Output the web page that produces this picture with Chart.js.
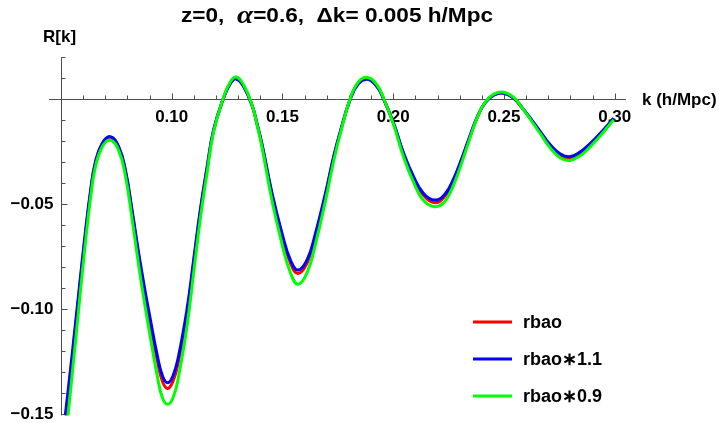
<!DOCTYPE html>
<html>
<head>
<meta charset="utf-8">
<script src="https://cdn.jsdelivr.net/npm/chart.js@4/dist/chart.umd.min.js"></script>
<style>
  html, body { margin: 0; padding: 0; background: #fff; }
  #wrap { width: 719px; height: 423px; }
</style>
</head>
<body>
<div id="wrap"><canvas id="rChart"></canvas></div>
<script>
// k values (h/Mpc)
const kVals = [
  0.0520, 0.0550, 0.0580, 0.0610, 0.0633, 0.0655, 0.0686, 0.0723, 0.0761, 0.0791,
  0.0821, 0.0851, 0.0881, 0.0904, 0.0934, 0.0958, 0.0982, 0.1006, 0.1031, 0.1069,
  0.1099, 0.1129, 0.1160, 0.1189, 0.1232, 0.1265, 0.1292, 0.1325, 0.1363, 0.1385,
  0.1408, 0.1453, 0.1498, 0.1536, 0.1570, 0.1611, 0.1649, 0.1694, 0.1731, 0.1762,
  0.1806, 0.1844, 0.1885, 0.1927, 0.1957, 0.2002, 0.2047, 0.2092, 0.2137, 0.2190,
  0.2235, 0.2273, 0.2303, 0.2341, 0.2379, 0.2416, 0.2454, 0.2499, 0.2544, 0.2582,
  0.2619, 0.2665, 0.2710, 0.2755, 0.2797, 0.2845, 0.2890, 0.2935, 0.2995
];
// R[k] for rbao (red)
const rbao = [
  -0.1532, -0.1244, -0.0944, -0.0648, -0.0449, -0.0306, -0.0214, -0.0182, -0.0231, -0.0344,
  -0.0538, -0.0748, -0.0938, -0.1072, -0.1239, -0.1342, -0.1377, -0.1342, -0.1246, -0.1020,
  -0.0780, -0.0538, -0.0327, -0.0149, 0.0000, 0.0078, 0.0099, 0.0062, -0.0031, -0.0117,
  -0.0219, -0.0457, -0.0651, -0.0780, -0.0829, -0.0780, -0.0651, -0.0457, -0.0278, -0.0153,
  0.0001, 0.0078, 0.0097, 0.0062, 0.0001, -0.0116, -0.0262, -0.0375, -0.0457, -0.0492,
  -0.0459, -0.0386, -0.0306, -0.0194, -0.0087, -0.0015, 0.0021, 0.0030, 0.0006, -0.0041,
  -0.0092, -0.0158, -0.0222, -0.0265, -0.0279, -0.0255, -0.0214, -0.0165, -0.0092
];
// R[k] for rbao*1.1 (blue)
const rbao11 = [
  -0.1502, -0.1220, -0.0925, -0.0635, -0.0440, -0.0300, -0.0210, -0.0178, -0.0226, -0.0337,
  -0.0527, -0.0733, -0.0920, -0.1051, -0.1215, -0.1316, -0.1350, -0.1316, -0.1222, -0.1000,
  -0.0765, -0.0527, -0.0321, -0.0146, 0.0000, 0.0076, 0.0097, 0.0060, -0.0030, -0.0115,
  -0.0215, -0.0448, -0.0638, -0.0765, -0.0813, -0.0765, -0.0638, -0.0448, -0.0273, -0.0150,
  0.0000, 0.0076, 0.0095, 0.0060, 0.0000, -0.0114, -0.0257, -0.0368, -0.0448, -0.0480,
  -0.0450, -0.0378, -0.0300, -0.0190, -0.0085, -0.0015, 0.0020, 0.0029, 0.0005, -0.0040,
  -0.0090, -0.0155, -0.0218, -0.0260, -0.0273, -0.0250, -0.0210, -0.0162, -0.0090
];
// R[k] for rbao*0.9 (green)
const rbao09 = [
  -0.1622, -0.1318, -0.0999, -0.0686, -0.0475, -0.0324, -0.0227, -0.0194, -0.0244, -0.0364,
  -0.0569, -0.0792, -0.0994, -0.1135, -0.1312, -0.1421, -0.1452, -0.1421, -0.1320, -0.1080,
  -0.0826, -0.0569, -0.0347, -0.0155, 0.0002, 0.0084, 0.0106, 0.0068, -0.0028, -0.0120,
  -0.0230, -0.0484, -0.0689, -0.0826, -0.0880, -0.0826, -0.0689, -0.0484, -0.0295, -0.0160,
  0.0004, 0.0084, 0.0104, 0.0068, 0.0004, -0.0121, -0.0276, -0.0395, -0.0482, -0.0511,
  -0.0484, -0.0406, -0.0322, -0.0202, -0.0088, -0.0012, 0.0025, 0.0034, 0.0009, -0.0041,
  -0.0095, -0.0165, -0.0233, -0.0279, -0.0291, -0.0268, -0.0225, -0.0174, -0.0097
];

const xTicks = [0.10, 0.15, 0.20, 0.25, 0.30];
const xTickLabels = ['0.10', '0.15', '0.20', '0.25', '0.30'];
const yTicks = [-0.05, -0.10, -0.15];
const yTickLabels = ['\u22120.05', '\u22120.10', '\u22120.15'];
const seriesNames = ['rbao', 'rbao\u22171.1', 'rbao\u22170.9'];

const FONT = '"Liberation Sans", Arial, sans-serif';

const toPts = vals => vals.map((v, i) => ({ x: kVals[i], y: v }));

const axesPlugin = {
  id: 'mmaAxes',
  beforeDatasetsDraw(chart) {
    const { ctx, chartArea: a, scales: { x, y } } = chart;
    const y0 = Math.round(y.getPixelForValue(0)) + 0.5;
    const x0 = Math.round(x.getPixelForValue(0.05)) + 0.5;
    ctx.save();
    ctx.strokeStyle = '#4d4d4d';
    ctx.lineWidth = 1;
    ctx.beginPath();
    ctx.moveTo(a.left, y0); ctx.lineTo(a.right, y0);
    ctx.moveTo(x0, a.top); ctx.lineTo(x0, a.bottom);
    for (let i = 6; i <= 30; i++) {
      const px = Math.round(x.getPixelForValue(i / 100)) + 0.5;
      const len = i % 5 === 0 ? 6 : 4;
      ctx.moveTo(px, y0); ctx.lineTo(px, y0 - len);
    }
    for (let i = 2; i >= -15; i--) {
      if (i === 0) continue;
      const py = Math.round(y.getPixelForValue(i / 100)) + 0.5;
      const len = i % 5 === 0 ? 6 : 4;
      ctx.moveTo(x0, py); ctx.lineTo(x0 + len, py);
    }
    ctx.stroke();

    ctx.fillStyle = '#000';
    ctx.font = 'bold 17px ' + FONT;
    ctx.textBaseline = 'middle';
    ctx.textAlign = 'center';
    xTicks.forEach((t, i) => {
      ctx.fillText(xTickLabels[i], x.getPixelForValue(t), y0 + 18);
    });
    ctx.textAlign = 'right';
    yTicks.forEach((t, i) => {
      ctx.fillText(yTickLabels[i], x0 - 8, y.getPixelForValue(t));
    });
    ctx.restore();
  },
  afterDraw(chart) {
    const { ctx, scales: { y } } = chart;
    const y0 = y.getPixelForValue(0);
    ctx.save();
    ctx.fillStyle = '#000';
    ctx.textBaseline = 'middle';
    ctx.textAlign = 'left';

    // title in pieces so alpha can be italic; slightly widened like the original
    const parts = [
      { t: 'z=0,  ', f: 'bold 20px ' + FONT },
      { t: '\u03b1', f: 'italic bold 26px "Liberation Serif", serif' },
      { t: '=0.6,  \u0394k= 0.005 h/Mpc', f: 'bold 20px ' + FONT }
    ];
    const sx = 1.13;
    let w = 0;
    parts.forEach(p => { ctx.font = p.f; p.w = ctx.measureText(p.t).width; w += p.w; });
    ctx.save();
    ctx.translate(337 - (w * sx) / 2, 16);
    ctx.scale(sx, 1);
    let cx = 0;
    parts.forEach(p => { ctx.font = p.f; ctx.fillText(p.t, cx, 0); cx += p.w; });
    ctx.restore();

    ctx.font = 'bold 17px ' + FONT;
    ctx.fillText('R[k]', 43, 37);
    ctx.fillText('k (h/Mpc)', 642, y0 + 1);

    // legend
    const colors = chart.data.datasets.map(d => d.borderColor);
    const rows = [322, 359, 396];
    ctx.font = 'bold 18px ' + FONT;
    rows.forEach((ry, i) => {
      ctx.strokeStyle = colors[i];
      ctx.lineWidth = 3;
      ctx.beginPath();
      ctx.moveTo(473, ry); ctx.lineTo(512, ry);
      ctx.stroke();
      ctx.fillText(seriesNames[i], 523, ry + 1);
    });
    ctx.restore();
  }
};

new Chart(document.getElementById('rChart'), {
  type: 'line',
  data: {
    datasets: [
      { label: seriesNames[0], data: toPts(rbao), borderColor: '#ff0000', order: 3 },
      { label: seriesNames[1], data: toPts(rbao11), borderColor: '#0000ff', order: 2 },
      { label: seriesNames[2], data: toPts(rbao09), borderColor: '#00ff00', order: 1 }
    ]
  },
  options: {
    responsive: true,
    maintainAspectRatio: false,
    animation: false,
    layout: { padding: { left: 49, right: 93, top: 57.3, bottom: 7.6 } },
    elements: {
      line: { borderWidth: 3, tension: 0.45, fill: false },
      point: { radius: 0 }
    },
    datasets: { line: { clip: 0 } },
    plugins: { legend: { display: false }, tooltip: { enabled: false } },
    scales: {
      x: { type: 'linear', min: 0.0446, max: 0.3051, display: false },
      y: { type: 'linear', min: -0.1505, max: 0.02, display: false }
    }
  },
  plugins: [axesPlugin]
});
</script>
</body>
</html>
